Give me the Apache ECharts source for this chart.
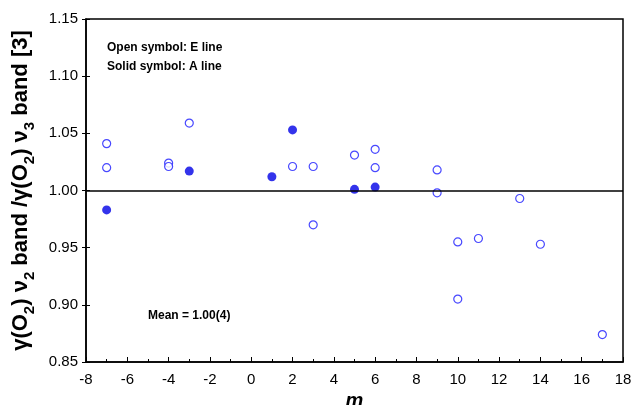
<!DOCTYPE html>
<html><head><meta charset="utf-8">
<script src="https://cdn.jsdelivr.net/npm/echarts@6/dist/echarts.min.js"></script>
<style>html,body{margin:0;padding:0;background:#fff}#c{width:634px;height:405px}</style>
</head><body><div id="c"></div>
<script>
// Open symbols: E line
const openM   = [-7, -7, -4, -4, -3, 2, 3, 3, 5, 6, 6, 9, 9, 10, 10, 11, 13, 14, 17];
const openVal = [1.041, 1.020, 1.024, 1.021, 1.059, 1.021, 1.021, 0.970, 1.031, 1.036, 1.020, 1.018, 0.998, 0.955, 0.905, 0.958, 0.993, 0.953, 0.874];
// Solid symbols: A line
const solidM   = [-7, -3, 1, 2, 5, 6];
const solidVal = [0.983, 1.017, 1.012, 1.053, 1.001, 1.003];
const refLine = 1.00;
const xMin = -8, xMax = 18, xStep = 2;
const yMin = 0.85, yMax = 1.15, yStep = 0.05;

const chart = echarts.init(document.getElementById('c'), null, {renderer: 'canvas'});
const FONT = '"Liberation Sans", Arial, Helvetica, sans-serif';
chart.setOption({
  animation: false,
  backgroundColor: '#fff',
  grid: {left: 86, right: 11, top: 19, bottom: 43, containLabel: false, outerBoundsMode: 'none',
         show: true, borderColor: '#000', borderWidth: 1.5, backgroundColor: 'transparent'},
  xAxis: {
    type: 'value', min: xMin, max: xMax, interval: xStep,
    name: 'm', nameLocation: 'middle', nameGap: 26,
    nameTextStyle: {fontFamily: FONT, fontSize: 20, fontWeight: 'bold', fontStyle: 'italic', color: '#000'},
    axisLine: {show: true, onZero: false, lineStyle: {color: '#000', width: 1.5}},
    axisTick: {show: true, inside: true, length: 5, lineStyle: {color: '#000', width: 1}},
    minorTick: {show: true, splitNumber: 2, length: 3, lineStyle: {color: '#000', width: 1}},
    axisLabel: {fontFamily: FONT, fontSize: 15, color: '#000', margin: 10},
    splitLine: {show: false}
  },
  yAxis: [{
    type: 'value', min: yMin, max: yMax, interval: yStep,
    name: '{a|γ(O}{s|2}{a|) ν}{s|2}{a| band /γ(O}{s|2}{a|) ν}{s|3}{a| band [3]}',
    nameLocation: 'middle', nameGap: 54, nameRotate: 90,
    nameTextStyle: {
      color: '#000',
      rich: {
        a: {fontFamily: FONT, fontSize: 22, fontWeight: 'bold', color: '#000', lineHeight: 26, verticalAlign: 'bottom'},
        s: {fontFamily: FONT, fontSize: 15, fontWeight: 'bold', color: '#000', lineHeight: 26, verticalAlign: 'bottom', padding: [0, 0, -5, 0]}
      }
    },
    axisLine: {show: true, onZero: false, lineStyle: {color: '#000', width: 1.5}},
    axisTick: {show: true, inside: true, length: 4, lineStyle: {color: '#000', width: 1}},
    axisLabel: {fontFamily: FONT, fontSize: 15, color: '#000', margin: 8, formatter: v => v.toFixed(2)},
    splitLine: {show: false}
  }, {
    type: 'value', min: yMin, max: yMax, interval: yStep, position: 'left',
    axisLine: {show: false, onZero: false},
    axisTick: {show: true, inside: false, length: 4, lineStyle: {color: '#000', width: 1}},
    axisLabel: {show: false},
    splitLine: {show: false}
  }],
  graphic: [
    {type: 'text', left: 107, top: 42, style: {text: 'Open symbol: E line', font: 'bold 12px ' + FONT, fill: '#000'}},
    {type: 'text', left: 107, top: 61, style: {text: 'Solid symbol: A line', font: 'bold 12px ' + FONT, fill: '#000'}},
    {type: 'text', left: 148, top: 310, style: {text: 'Mean = 1.00(4)', font: 'bold 12px ' + FONT, fill: '#000'}}
  ],
  series: [
    {
      type: 'scatter', name: 'E line',
      data: openM.map((m, i) => [m, openVal[i]]),
      symbol: 'circle', symbolSize: 8,
      itemStyle: {color: '#fff', borderColor: '#1a1aff', borderWidth: 1.2},
      markLine: {
        silent: true, symbol: ['none', 'none'], label: {show: false},
        lineStyle: {color: '#000', width: 1.5, type: 'solid'},
        data: [{yAxis: refLine}]
      },
      z: 3
    },
    {
      type: 'scatter', name: 'A line',
      data: solidM.map((m, i) => [m, solidVal[i]]),
      symbol: 'circle', symbolSize: 9,
      itemStyle: {color: '#0000e6', borderColor: '#0000e6', borderWidth: 0},
      z: 4
    }
  ]
});
</script></body></html>
